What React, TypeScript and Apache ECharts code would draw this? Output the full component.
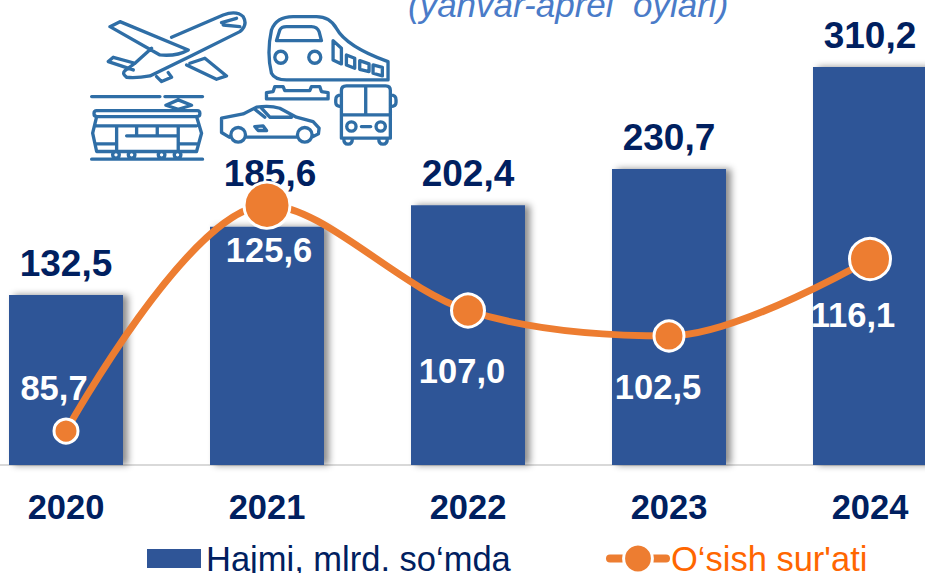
import React, { useEffect, useRef } from "react";
import * as echarts from "echarts";

const years = ["2020", "2021", "2022", "2023", "2024"];
const volume = [132.5, 185.6, 202.4, 230.7, 310.2];
const growth = [85.7, 125.6, 107.0, 102.5, 116.1];
const barName = "Hajmi, mlrd. so‘mda";
const lineName = "O‘sish sur'ati";
const subtitle = "(yanvar-aprel  oylari)";

const FONT = "Liberation Sans";
const NAVY = "#002060";
const ORANGE = "#ed7d31";
const ICON = "#2f6ea6";

const ICON_PATHS =
  // plane
  "M275 112 L430 45 Q470 30 490 50 Q505 75 480 95 L330 170 L210 228 Q170 235 140 232 Q125 222 135 212 L165 190 L215 145 " +
  "M325 150 L120 65 L90 80 L240 165 Q290 170 325 150 Z " +
  "M165 190 L100 172 L85 185 L160 210 " +
  "M330 190 L375 175 L440 228 L410 238 L320 195 " +
  "M230 230 L245 245 L275 232 L265 218 " +
  "M425 68 L470 55 M430 75 L480 80 " +
  // train
  "M575 220 Q560 160 575 90 Q590 50 640 50 L710 50 Q750 50 770 85 Q800 140 925 185 L925 240 L620 240 Q585 240 575 220 Z " +
  "M590 122 L600 90 Q605 80 620 80 L695 80 Q712 80 718 95 L725 122 Z " +
  "M585 172 A18 18 0 1 0 621 172 A18 18 0 1 0 585 172 Z M687 172 A18 18 0 1 0 723 172 A18 18 0 1 0 687 172 Z " +
  "M760 122 L785 145 L785 192 L760 180 Z M800 165 L825 175 L825 205 L800 195 Z " +
  "M840 182 L868 192 L868 215 L840 208 Z M880 195 L908 202 L908 228 L880 220 Z " +
  "M560 297 L745 297 L745 278 L725 275 L720 260 L695 260 L690 272 L615 272 L610 260 L585 260 L580 275 L560 278 Z " +
  // bus
  "M800 258 L918 258 Q932 258 932 272 L932 415 L785 415 L785 272 Q785 258 800 258 Z " +
  "M858 258 L858 345 M785 345 L932 345 " +
  "M785 285 Q768 285 768 300 L768 308 Q768 320 785 320 M932 285 Q949 285 949 300 L949 308 Q949 320 932 320 " +
  "M801 380 A14 14 0 1 0 829 380 A14 14 0 1 0 801 380 Z M889 380 A14 14 0 1 0 917 380 A14 14 0 1 0 889 380 Z " +
  "M845 380 L873 380 M792 415 Q792 433 805 433 Q818 433 818 415 M897 415 Q897 433 910 433 Q923 433 923 415 " +
  // car
  "M448 412 L425 398 L425 355 L490 342 L530 322 Q570 316 600 325 L650 352 L700 365 L718 385 L716 402 L700 410 " +
  "M500 412 L650 412 M453 405 A22 22 0 1 0 497 405 A22 22 0 1 0 453 405 Z M653 405 A22 22 0 1 0 697 405 A22 22 0 1 0 653 405 Z " +
  "M525 328 L555 352 M545 325 L570 352 L635 352 M525 380 L550 378 L560 392 L535 392 Z " +
  // tram
  "M35 290 L240 290 M255 290 L368 290 M295 300 L258 316 L295 328 L335 316 Z " +
  "M50 332 L352 332 Q360 332 360 341 Q360 350 352 350 L50 350 Q42 350 42 341 Q42 332 50 332 Z " +
  "M50 350 L38 400 L50 455 L350 455 L365 400 L350 350 " +
  "M50 378 L350 378 M110 378 L110 455 M170 378 L170 408 M232 378 L232 408 M295 378 L295 455 " +
  "M140 408 L295 408 M50 432 L110 432 M295 432 L350 432 M35 478 L368 478 " +
  "M98 465 A10 10 0 1 0 118 465 A10 10 0 1 0 98 465 Z M145 465 A10 10 0 1 0 165 465 A10 10 0 1 0 145 465 Z " +
  "M235 465 A10 10 0 1 0 255 465 A10 10 0 1 0 235 465 Z M283 465 A10 10 0 1 0 303 465 A10 10 0 1 0 283 465 Z";

echarts.graphic.registerShape("transportIcons", echarts.graphic.extendPath(ICON_PATHS, {}) as any);

const fmt = (v: number) => v.toFixed(1).replace(".", ",");

// presentation per point, by index
const barLabelOffsets = [[0, 0], [3, -22], [0, 0], [0, 0], [0, 0]];
const lineMarkerSizes = [24, 46, 33, 30, 41];
const lineLabelOffsets = [[-12, -43], [2, 45], [-6, 61], [-11, 51], [-17, 56]];

export default function App() {
  const ref = useRef<HTMLDivElement>(null);
  useEffect(() => {
    const chart = echarts.init(ref.current!, undefined, { renderer: "svg" });
    chart.setOption({
      animation: false,
      backgroundColor: "#ffffff",
      textStyle: { fontFamily: FONT },
      grid: { left: -34.5, width: 1005, top: 0, height: 465, containLabel: false, outerBoundsMode: "none" },
      xAxis: {
        type: "category",
        data: years,
        axisTick: { show: false },
        axisLine: { lineStyle: { color: "#d9d9d9", width: 2 } },
        axisLabel: { color: NAVY, fontFamily: FONT, fontWeight: "bold", fontSize: 34.5, margin: 24 },
      },
      yAxis: [
        { type: "value", min: 0, max: 362.4, show: false },
        { type: "value", min: 79.7, max: 161.86, show: false },
      ],
      legend: [
        {
          left: 147,
          top: 541,
          itemWidth: 54,
          itemHeight: 19,
          icon: "rect",
          data: [{ name: barName, textStyle: { color: NAVY, fontSize: 34.5, fontFamily: FONT } }],
          selectedMode: false,
          padding: 0,
        },
        {
          left: 606,
          top: 541,
          itemWidth: 56,
          itemHeight: 36,
          data: [{ name: lineName, textStyle: { color: "#ff6600", fontSize: 34.5, fontFamily: FONT } }],
          selectedMode: false,
          padding: 0,
          lineStyle: { width: 8, cap: "round" },
          itemStyle: { borderWidth: 3, borderColor: "#ffffff" },
        },
      ],
      series: [
        {
          type: "bar",
          name: barName,
          yAxisIndex: 0,
          barWidth: 114,
          z: 2,
          itemStyle: {
            color: "#2f5597",
            shadowColor: "rgba(0,0,0,0.45)",
            shadowBlur: 7,
            shadowOffsetX: 5,
            shadowOffsetY: 0,
          },
          data: volume.map((v, i) => ({
            value: v,
            label: {
              show: true,
              position: "top",
              distance: 13,
              offset: barLabelOffsets[i],
              formatter: (p: any) => fmt(p.value),
              color: NAVY,
              fontFamily: FONT,
              fontWeight: "bold",
              fontSize: 37,
            },
          })),
        },
        {
          type: "line",
          name: lineName,
          yAxisIndex: 1,
          z: 3,
          smooth: 0.33,
          symbol: "circle",
          lineStyle: { color: ORANGE, width: 7 },
          itemStyle: { color: ORANGE, borderColor: "#ffffff", borderWidth: 3 },
          data: growth.map((v, i) => ({
            value: v,
            symbolSize: lineMarkerSizes[i],
            label: {
              show: true,
              position: "inside",
              offset: lineLabelOffsets[i],
              formatter: (p: any) => fmt(p.value),
              color: "#ffffff",
              fontFamily: FONT,
              fontWeight: "bold",
              fontSize: 34.5,
            },
          })),
        },
      ],
      graphic: [
        {
          type: "text",
          left: 408,
          top: -13,
          style: {
            text: subtitle,
            fill: "#4a7bc8",
            font: `italic 35px "${FONT}"`,
          },
        },
        {
          type: "transportIcons",
          x: 80,
          y: 0,
          scaleX: 1 / 3,
          scaleY: 1 / 3,
          silent: true,
          style: { fill: "none", stroke: ICON, lineWidth: 10, lineJoin: "round", lineCap: "round" },
        },
      ],
    });
    return () => chart.dispose();
  }, []);
  return (
    <div
      ref={ref}
      style={{ position: "absolute", left: 0, top: 0, width: 925, height: 573 }}
    />
  );
}
